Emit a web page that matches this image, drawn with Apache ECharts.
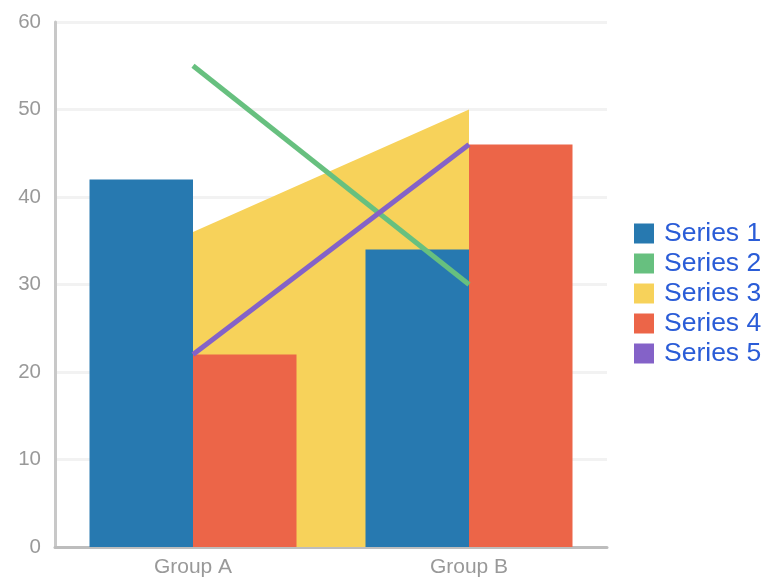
<!DOCTYPE html>
<html>
<head>
<meta charset="utf-8">
<script src="https://cdn.jsdelivr.net/npm/echarts@6/dist/echarts.min.js"></script>
<style>html,body{margin:0;padding:0;background:#fff}#c{width:767px;height:579px}</style>
</head>
<body>
<div id="c"></div>
<script>
const categories = ['Group A', 'Group B'];
const series1 = [42, 34];
const series2 = [55, 30];
const series3 = [36, 50];
const series4 = [22, 46];
const series5 = [22, 46];
const yTicks = { min: 0, max: 60, interval: 10 };

const chart = echarts.init(document.getElementById('c'));
chart.setOption({
  animation: false,
  textStyle: { fontFamily: 'Liberation Sans, Arial, sans-serif' },
  grid: { left: 55, right: 160, top: 22, bottom: 32, containLabel: false },
  legend: {
    orient: 'vertical', left: 634, top: 220, padding: 0,
    icon: 'rect', itemWidth: 20, itemHeight: 20, itemGap: 3,
    textStyle: { color: '#2a5cd7', fontSize: 26.5, lineHeight: 27, padding: [0, 0, 0, 5] },
    data: ['Series 1', 'Series 2', 'Series 3', 'Series 4', 'Series 5']
  },
  xAxis: {
    type: 'category', data: categories, boundaryGap: true,
    axisLine: { lineStyle: { color: '#bdbdbd', width: 3 } },
    axisTick: { show: false },
    axisLabel: { color: '#999', fontSize: 21, margin: 10 },
    splitLine: { show: false }
  },
  yAxis: {
    type: 'value', min: yTicks.min, max: yTicks.max, interval: yTicks.interval,
    axisLine: { show: true, lineStyle: { color: '#c8c8c8', width: 3 } },
    axisTick: { show: false },
    axisLabel: { color: '#999', fontSize: 20.5, margin: 14 },
    splitLine: { lineStyle: { color: '#f2f2f2', width: 3 } }
  },
  series: [
    { name: 'Series 1', type: 'bar', data: series1, itemStyle: { color: '#2779b0' }, barGap: 0, barCategoryGap: '25%', z: 2 },
    { name: 'Series 2', type: 'line', data: series2, showSymbol: false, symbol: 'none', lineStyle: { color: '#67c07f', width: 5 }, itemStyle: { color: '#67c07f' }, z: 4 },
    { name: 'Series 3', type: 'line', data: series3, showSymbol: false, symbol: 'none', lineStyle: { width: 0, color: '#f7d25a' }, itemStyle: { color: '#f7d25a' }, areaStyle: { color: '#f7d25a', opacity: 1 }, z: 1 },
    { name: 'Series 4', type: 'bar', data: series4, itemStyle: { color: '#ec6548' }, barGap: 0, barCategoryGap: '25%', z: 2 },
    { name: 'Series 5', type: 'line', data: series5, showSymbol: false, symbol: 'none', lineStyle: { color: '#8462c8', width: 5 }, itemStyle: { color: '#8462c8' }, z: 4 }
  ]
});
</script>
</body>
</html>
